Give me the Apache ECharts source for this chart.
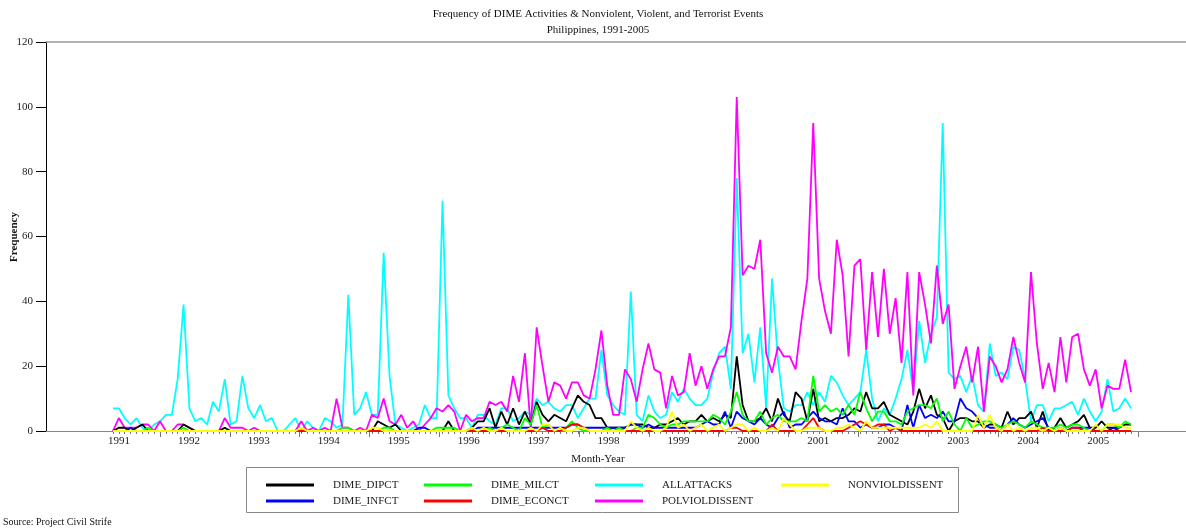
<!DOCTYPE html>
<html lang="en">
<head>
<meta charset="UTF-8">
<title>DIME Activities - Philippines</title>
<style>
  html, body { margin: 0; padding: 0; background: #fff; }
  #chart { width: 1186px; height: 529px; }
</style>
</head>
<body>
<div id="chart"></div>
<script src="https://cdn.jsdelivr.net/npm/echarts@6/dist/echarts.min.js"></script>
<script>
// monthly counts, Jan 1991 onward (one row = 12 months)
const dimeDipct = [
  0,1,1,0,1,2,0,0,0,0,0,0,
  2,1,0,0,0,0,0,1,0,0,0,0,
  0,0,0,0,0,0,0,0,0,0,0,0,
  0,0,0,0,0,0,0,0,0,3,2,1,
  2,0,0,0,0,0,0,0,0,3,0,0,
  0,1,3,3,7,1,6,2,7,2,6,2,
  9,5,3,5,4,3,7,11,9,8,4,4,
  1,1,1,1,2,2,2,1,1,2,2,3,
  4,2,3,3,5,3,4,3,5,4,23,8,
  3,3,4,7,3,10,5,3,12,10,3,13,
  3,4,3,4,4,5,7,6,12,7,7,9,
  5,4,3,2,6,13,7,11,5,4,0,3,
  4,4,3,3,1,2,2,1,6,2,4,4,
  6,1,6,0,1,4,1,2,3,5,1,1,
  3,1,1,1,2,2
]
const dimeInfct = [
  0,0,0,1,0,0,0,0,0,0,0,0,
  0,0,0,0,0,0,0,0,0,0,0,0,
  0,0,0,0,0,0,0,0,0,0,0,0,
  0,0,0,0,0,0,0,0,0,0,0,0,
  0,0,0,0,1,1,0,0,0,0,0,0,
  0,0,1,1,1,1,1,1,1,1,1,1,
  1,1,1,1,1,1,2,2,1,1,1,1,
  1,1,1,1,2,2,1,2,1,1,1,1,
  1,1,1,1,2,3,2,2,6,1,6,4,
  3,2,4,2,1,4,6,1,2,2,4,6,
  4,3,3,2,7,3,3,1,2,1,1,2,
  2,1,0,8,1,8,4,5,4,6,3,3,
  10,7,6,4,2,1,1,0,2,4,2,1,
  2,3,4,1,0,1,0,1,1,1,1,0,
  0,0,1,0,0,0
]
const dimeMilct = [
  0,0,0,0,0,0,1,0,0,0,0,0,
  1,0,0,0,0,0,0,0,0,0,0,0,
  0,0,0,0,0,0,0,0,0,0,0,0,
  0,0,0,1,1,0,0,0,0,0,1,1,
  0,0,0,0,0,0,0,1,1,1,1,0,
  0,0,0,0,1,0,1,2,1,0,4,2,
  8,1,2,0,0,1,3,1,0,0,0,0,
  1,0,1,0,0,1,1,5,4,2,1,2,
  2,3,3,3,3,3,5,4,2,6,12,5,
  3,3,6,2,4,5,3,3,3,4,3,17,
  6,8,6,7,5,8,5,12,7,3,6,6,
  3,3,2,6,7,8,8,7,10,3,6,2,
  0,4,1,2,3,3,2,1,2,3,2,1,
  3,2,1,1,1,2,1,2,2,1,0,0,
  0,2,2,1,3,2
]
const dimeEconct = [
  0,0,0,0,0,0,0,0,0,0,0,0,
  0,0,0,0,0,0,0,0,0,0,0,0,
  0,0,0,0,0,0,0,0,0,0,0,0,
  0,0,0,0,0,0,0,0,0,0,0,0,
  0,0,0,0,0,0,0,0,0,0,0,0,
  0,0,0,0,0,0,0,0,0,0,0,0,
  0,1,0,0,0,1,2,2,1,0,0,0,
  0,0,0,0,0,0,0,0,0,0,0,0,
  0,0,0,0,0,0,0,0,0,1,1,0,
  0,0,0,0,2,0,0,0,0,0,2,4,
  1,0,0,0,0,1,2,3,2,1,2,2,
  0,1,0,0,0,0,0,0,0,0,0,0,
  0,0,0,0,0,0,0,0,0,0,0,0,
  0,0,1,0,0,0,0,1,1,0,0,0,
  0,0,0,0,0,0
]
const allAttacks = [
  7,7,4,2,4,1,0,2,3,5,5,16,
  39,7,3,4,2,9,6,16,2,3,17,7,
  4,8,3,4,0,0,2,4,0,3,1,0,
  4,3,1,2,42,5,7,12,5,5,55,17,
  2,1,0,1,2,8,4,4,71,11,7,4,
  4,1,5,5,3,2,7,7,3,4,6,5,
  10,8,9,7,6,8,8,4,7,10,10,25,
  11,8,6,5,43,5,3,11,6,4,5,12,
  9,13,10,8,8,10,18,24,26,13,78,24,
  30,15,32,7,47,22,7,6,8,8,12,8,
  12,9,17,15,11,8,10,12,25,10,3,7,
  5,10,16,25,12,34,21,30,35,95,18,16,
  17,12,17,8,6,27,17,18,16,26,25,16,
  3,8,8,3,7,7,8,9,5,10,6,3,
  6,16,6,7,10,7
]
const polViolDissent = [
  0,4,1,1,1,2,2,0,3,0,0,2,
  2,1,0,0,0,0,0,4,1,1,1,0,
  1,0,0,0,0,0,0,0,3,0,1,0,
  1,0,10,1,1,0,1,0,5,4,10,3,
  2,5,1,3,0,2,4,7,6,8,6,0,
  5,3,4,4,9,8,9,6,17,9,24,1,
  32,20,9,15,14,10,15,15,11,10,19,31,
  14,5,5,19,16,9,19,27,19,18,7,17,
  11,12,24,14,20,13,19,23,23,32,103,48,
  51,50,59,24,18,26,23,23,19,34,47,95,
  47,37,30,59,48,23,51,53,25,49,29,50,
  30,41,21,49,11,49,39,27,51,33,39,13,
  20,26,15,26,6,23,20,15,19,29,21,15,
  49,27,13,21,12,29,15,29,30,19,14,19,
  7,14,13,13,22,12
]
const nonViolDissent = [
  0,0,0,0,0,0,0,0,0,0,0,0,
  0,0,0,0,0,0,0,0,0,0,0,0,
  0,0,0,0,0,0,0,0,1,0,0,0,
  0,0,0,0,0,0,0,0,1,1,0,0,
  0,0,0,0,0,0,0,0,0,0,0,0,
  0,1,0,1,0,0,1,0,0,0,0,1,
  0,2,2,0,1,0,0,1,1,0,0,0,
  0,0,0,0,3,1,0,1,0,0,1,6,
  1,2,0,1,2,0,1,2,0,1,2,2,
  0,1,0,0,1,0,4,2,0,0,1,1,
  1,0,0,1,1,2,1,0,3,1,1,1,
  1,1,1,1,1,1,2,1,3,0,0,0,
  0,0,0,5,1,5,1,0,2,0,1,0,
  1,1,0,1,0,1,0,0,0,0,0,2,
  0,2,2,2,1,1
]
const years = ['1991','1992','1993','1994','1995','1996','1997','1998',
  '1999','2000','2001','2002','2003','2004','2005']

const font = "'Liberation Serif', 'Times New Roman', serif"

// x axis is in month index units
const xMin = -11.375
const xMax = 182.34
const labelStart = 1.02, labelStep = 11.885
const majorStart = 7.98, majorStep = 11.87

const monthTicks = dimeDipct.map((_, i) => i)
const labelPos = years.map((_, k) => labelStart + k * labelStep)
const majorPos = years.map((_, k) => majorStart + k * majorStep)

const toPairs = arr => arr.map((v, i) => [i, v])

const seriesDefs = [
  { name: 'ALLATTACKS', data: allAttacks, color: '#00ffff' },
  { name: 'POLVIOLDISSENT', data: polViolDissent, color: '#ff00ff' },
  { name: 'DIME_DIPCT', data: dimeDipct, color: '#000000' },
  { name: 'DIME_INFCT', data: dimeInfct, color: '#0000ff' },
  { name: 'DIME_MILCT', data: dimeMilct, color: '#00ff00' },
  { name: 'DIME_ECONCT', data: dimeEconct, color: '#ff0000' },
  { name: 'NONVIOLDISSENT', data: nonViolDissent, color: '#ffff00' }
]

const legendCol = (left, names) => ({
  orient: 'vertical',
  left: left,
  top: 478,
  padding: 0,
  itemGap: 2,
  itemWidth: 48,
  itemHeight: 3,
  icon: 'rect',
  data: names,
  textStyle: { fontFamily: font, fontSize: 11, color: '#222', lineHeight: 14, padding: [0, 0, 0, 14] }
})

const chart = echarts.init(document.getElementById('chart'))

chart.setOption({
  animation: false,
  backgroundColor: '#fff',
  textStyle: { fontFamily: font },
  grid: { left: 46, right: 0, top: 42, bottom: 98 },
  legend: [
    legendCol(266, ['DIME_DIPCT', 'DIME_INFCT']),
    legendCol(424, ['DIME_MILCT', 'DIME_ECONCT']),
    legendCol(595, ['ALLATTACKS', 'POLVIOLDISSENT']),
    legendCol(781, ['NONVIOLDISSENT'])
  ],
  xAxis: [{
    type: 'value',
    min: xMin, max: xMax,
    axisLine: { show: true, onZero: false, lineStyle: { color: '#888' } },
    axisTick: { show: true, length: 3, customValues: monthTicks, lineStyle: { color: '#777' } },
    axisLabel: {
      customValues: labelPos, margin: 5, fontFamily: font, fontSize: 11, color: '#222',
      formatter: v => years[Math.round((v - labelStart) / labelStep)]
    },
    splitLine: { show: false }
  }, {
    // longer yearly ticks
    type: 'value',
    min: xMin, max: xMax,
    position: 'bottom',
    axisLine: { show: false, onZero: false },
    axisTick: { show: true, length: 6, customValues: majorPos, lineStyle: { color: '#777' } },
    axisLabel: { show: false },
    splitLine: { show: false }
  }, {
    // top frame line
    type: 'value',
    min: xMin, max: xMax,
    position: 'top',
    axisLine: { show: true, onZero: false, lineStyle: { color: '#999', width: 1.5 } },
    axisTick: { show: false },
    axisLabel: { show: false },
    splitLine: { show: false }
  }],
  yAxis: {
    type: 'value',
    min: 0, max: 120, interval: 20,
    axisLine: { show: true, onZero: false, lineStyle: { color: '#000' } },
    axisTick: { show: true, length: 10, lineStyle: { color: '#000' } },
    axisLabel: { margin: 13, fontFamily: font, fontSize: 11, color: '#222' },
    splitLine: { show: false }
  },
  series: seriesDefs.map(s => ({
    name: s.name,
    type: 'line',
    xAxisIndex: 0,
    data: toPairs(s.data),
    showSymbol: false,
    color: s.color,
    lineStyle: { color: s.color, width: 1.8 }
  })),
  graphic: [
    { type: 'text', x: 598, y: 14, style: { text: 'Frequency of DIME Activities & Nonviolent, Violent, and Terrorist Events', font: '11px ' + font, fill: '#111', textAlign: 'center', textVerticalAlign: 'middle' } },
    { type: 'text', x: 598, y: 30, style: { text: 'Philippines, 1991-2005', font: '11px ' + font, fill: '#111', textAlign: 'center', textVerticalAlign: 'middle' } },
    { type: 'text', x: 598, y: 459, style: { text: 'Month-Year', font: '11px ' + font, fill: '#111', textAlign: 'center', textVerticalAlign: 'middle' } },
    { type: 'text', x: 14, y: 237, rotation: Math.PI / 2, style: { text: 'Frequency', font: 'bold 11px ' + font, fill: '#111', textAlign: 'center', textVerticalAlign: 'middle' } },
    { type: 'text', x: 3, y: 522, style: { text: 'Source: Project Civil Strife', font: '10px ' + font, fill: '#111', textAlign: 'left', textVerticalAlign: 'middle' } },
    { type: 'rect', shape: { x: 246.5, y: 467.5, width: 712, height: 45 }, style: { fill: 'none', stroke: '#888', lineWidth: 1 } }
  ]
})
</script>
</body>
</html>
